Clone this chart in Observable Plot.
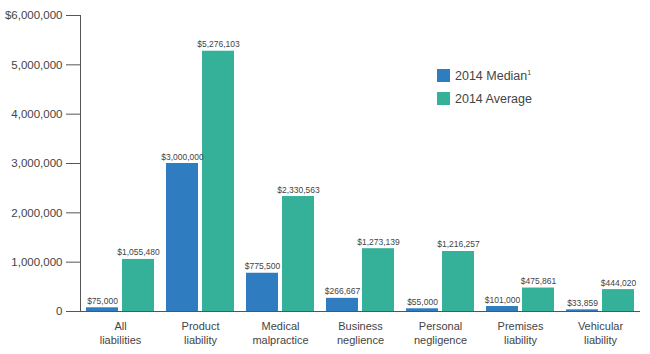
<!DOCTYPE html>
<html>
<head>
<meta charset="utf-8">
<script src="https://cdn.jsdelivr.net/npm/d3@7"></script>
<script src="https://cdn.jsdelivr.net/npm/@observablehq/plot@0.6"></script>
<style>
  html, body { margin: 0; padding: 0; background: #fff; }
  #wrap { position: relative; width: 650px; height: 354px; font-family: "Liberation Sans", Arial, sans-serif; }
  #legend { position: absolute; left: 437px; top: 64px; font-size: 12.5px; color: #444; }
  #legend .item { display: flex; align-items: center; height: 23px; }
  #legend .sw { width: 13px; height: 13px; margin-right: 5px; }
  sup { font-size: 7px; vertical-align: 5px; }
</style>
</head>
<body>
<div id="wrap"><div id="chart"></div><div id="legend"></div></div>
<script>
const categories = ["All\nliabilities", "Product\nliability", "Medical\nmalpractice", "Business\nneglience", "Personal\nnegligence", "Premises\nliability", "Vehicular\nliability"];
const median2014 = [75000, 3000000, 775500, 266667, 55000, 101000, 33859];
const average2014 = [1055480, 5276103, 2330563, 1273139, 1216257, 475861, 444020];
const seriesNames = ["2014 Median", "2014 Average"];
const seriesColors = ["#2f7cc1", "#35b19a"];
const yTicks = [0, 1000000, 2000000, 3000000, 4000000, 5000000, 6000000];

const medianRows = categories.map((c, i) => ({category: c, value: median2014[i]}));
const averageRows = categories.map((c, i) => ({category: c, value: average2014[i]}));
const fmt = d3.format(",");
const money = d => "$" + fmt(d.value);

const plot = Plot.plot({
  width: 650,
  height: 354,
  marginLeft: 80,
  marginRight: 10,
  marginTop: 15,
  marginBottom: 43,
  style: {fontFamily: "'Liberation Sans', Arial, sans-serif", color: "#333", background: "#fff"},
  x: {domain: categories, padding: 0, label: null},
  y: {domain: [0, 6000000], label: null},
  marks: [
    Plot.barY(medianRows, {x: "category", y: "value", fill: seriesColors[0], insetLeft: 6, insetRight: 42}),
    Plot.barY(averageRows, {x: "category", y: "value", fill: seriesColors[1], insetLeft: 42, insetRight: 6}),
    Plot.text(medianRows, {x: "category", y: "value", text: money, dx: -18, dy: -4, lineAnchor: "bottom", fontSize: 8.5, fill: "#444"}),
    Plot.text(averageRows, {x: "category", y: "value", text: money, dx: 18, dy: -4, lineAnchor: "bottom", fontSize: 8.5, fill: "#444"}),
    Plot.ruleY([0], {stroke: "#555"}),
    Plot.frame({anchor: "left", stroke: "#555"}),
    Plot.axisY({ticks: yTicks, tickFormat: d => d === 0 ? "0" : d === 6000000 ? "$" + fmt(d) : fmt(d), tickSize: 14, tickPadding: 4, fontSize: 11.5, stroke: "#555", fill: "#444", label: null}),
    Plot.axisX({tickSize: 0, tickPadding: 8, fontSize: 11, fill: "#444", label: null, lineHeight: 1.3})
  ]
});
document.getElementById("chart").appendChild(plot);

const legend = document.getElementById("legend");
seriesNames.forEach((name, i) => {
  const item = document.createElement("div");
  item.className = "item";
  const sw = document.createElement("div");
  sw.className = "sw";
  sw.style.background = seriesColors[i];
  const label = document.createElement("span");
  label.innerHTML = name + (i === 0 ? "<sup>1</sup>" : "");
  item.appendChild(sw);
  item.appendChild(label);
  legend.appendChild(item);
});
</script>
</body>
</html>
